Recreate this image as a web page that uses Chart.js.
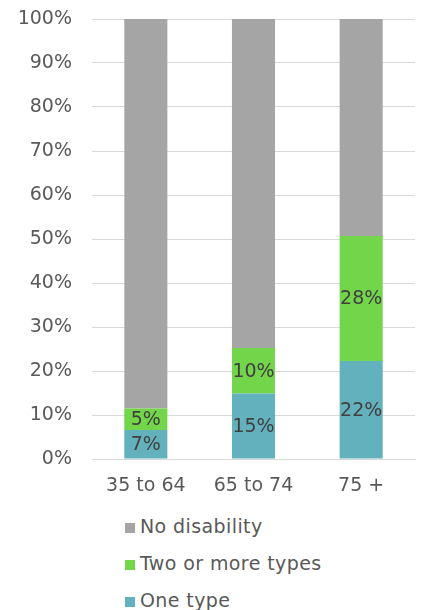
<!DOCTYPE html>
<html>
<head>
<meta charset="utf-8">
<script src="https://cdn.jsdelivr.net/npm/chart.js@4.4.0/dist/chart.umd.min.js"></script>
<style>
  html, body { margin: 0; padding: 0; background: #fff; }
  #wrap { position: relative; width: 427px; height: 610px; }
  #chart { position: absolute; left: 0; top: 0; }
  #legend { position: absolute; left: 125px; top: 513px; font-family: "DejaVu Sans", Verdana, sans-serif; font-size: 19px; letter-spacing: 0.4px; color: #595959; }
  #legend div { height: 37px; line-height: 26px; white-space: nowrap; }
  #legend span.box { display: inline-block; width: 10px; height: 10px; margin-right: 5px; vertical-align: 0px; }
</style>
</head>
<body>
<div id="wrap">
  <canvas id="chart" width="427" height="505"></canvas>
  <div id="legend"></div>
</div>
<script>
// age groups and disability shares (percent of each group)
const categories = ['35 to 64', '65 to 74', '75 +'];
const oneType = [6.6, 14.9, 22.3];
const twoOrMore = [4.9, 10.3, 28.4];
const noDisability = [88.5, 74.8, 49.3];
const yTicks = [0, 10, 20, 30, 40, 50, 60, 70, 80, 90, 100];

const FONT = '"DejaVu Sans", Verdana, sans-serif';

// label in the middle of each coloured segment (not the grey one)
const segmentLabels = {
  id: 'segmentLabels',
  afterDatasetsDraw(chart) {
    const ctx = chart.ctx;
    ctx.save();
    ctx.font = '19px ' + FONT;
    ctx.fillStyle = '#404040';
    ctx.textAlign = 'center';
    ctx.textBaseline = 'middle';
    chart.data.datasets.forEach((ds, i) => {
      if (!ds.showLabels) return;
      chart.getDatasetMeta(i).data.forEach((bar, j) => {
        const y = (bar.y + bar.base) / 2;
        ctx.fillText(Math.round(ds.data[j]) + '%', bar.x, y + 1);
      });
    });
    ctx.restore();
  }
};

const chart = new Chart(document.getElementById('chart'), {
  type: 'bar',
  data: {
    labels: categories,
    datasets: [
      { label: 'One type', data: oneType, backgroundColor: '#63b1bc', showLabels: true },
      { label: 'Two or more types', data: twoOrMore, backgroundColor: '#73d54a', showLabels: true },
      { label: 'No disability', data: noDisability, backgroundColor: '#a5a5a5', showLabels: false }
    ]
  },
  options: {
    responsive: false,
    animation: false,
    layout: { padding: { top: 19, right: 12, bottom: 0, left: 0 } },
    datasets: { bar: { categoryPercentage: 1, barPercentage: 0.4 } },
    scales: {
      x: {
        stacked: true,
        afterFit(axis) { axis.height = 46; axis.paddingLeft = 0; axis.paddingRight = 0; },
        grid: { display: false },
        border: { color: '#d9d9d9' },
        ticks: { color: '#595959', font: { family: FONT, size: 19 }, padding: 8 }
      },
      y: {
        stacked: true,
        min: 0,
        max: 100,
        afterFit(axis) { axis.width = 92; axis.paddingTop = 0; axis.paddingBottom = 0; },
        afterBuildTicks(axis) { axis.ticks = yTicks.map(v => ({ value: v })); },
        grid: { color: '#d9d9d9', drawTicks: false },
        border: { display: false },
        ticks: {
          color: '#595959',
          font: { family: FONT, size: 19 },
          padding: 20,
          callback: v => v + '%'
        }
      }
    },
    plugins: { legend: { display: false }, tooltip: { enabled: false } }
  },
  plugins: [segmentLabels]
});

// legend listed top-down in reverse stacking order
const legend = document.getElementById('legend');
chart.data.datasets.slice().reverse().forEach(ds => {
  const row = document.createElement('div');
  row.innerHTML = '<span class="box" style="background:' + ds.backgroundColor + '"></span>' + ds.label;
  legend.appendChild(row);
});
</script>
</body>
</html>
